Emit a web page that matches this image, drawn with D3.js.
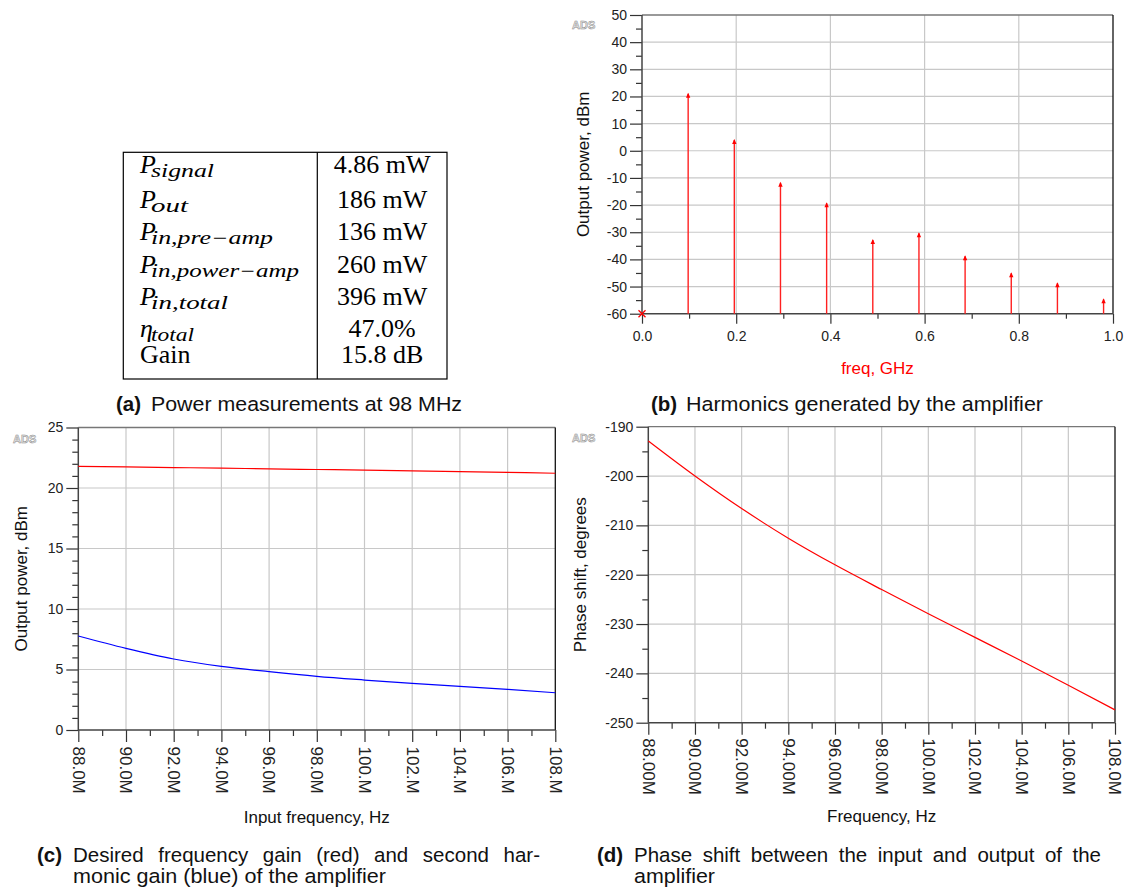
<!DOCTYPE html>
<html><head><meta charset="utf-8">
<script src="https://cdn.jsdelivr.net/npm/d3@7"></script>
<style>body{margin:0;background:#fff}</style>
</head><body><svg id="fig" width="1131" height="896" xmlns="http://www.w3.org/2000/svg"></svg>
<script>
// ---------------- DATA ----------------
// (a) table
const tableSymbols    = ["P", "P", "P", "P", "P", "η", "Gain"];
const tableSubscripts = ["signal", "out", "in,pre−amp", "in,power−amp", "in,total", "total", ""];
const tableValues     = ["4.86 mW", "186 mW", "136 mW", "260 mW", "396 mW", "47.0%", "15.8 dB"];

// (b) harmonics
const harmonicFreqGHz  = [0.098, 0.196, 0.294, 0.392, 0.490, 0.588, 0.686, 0.784, 0.882, 0.980];
const harmonicPowerDbm = [21.0, 4.0, -11.8, -19.3, -32.9, -30.4, -38.8, -45.1, -48.8, -54.7];
const dcFreqGHz  = [0.0];
const dcPowerDbm = [-60];
const bXTicks      = [0, 0.2, 0.4, 0.6, 0.8, 1.0];
const bXTickLabels = ["0.0", "0.2", "0.4", "0.6", "0.8", "1.0"];
const bYTicks      = [50, 40, 30, 20, 10, 0, -10, -20, -30, -40, -50, -60];

// (c), (d) sweep
const sweepFreqMHz        = [88, 90, 92, 94, 96, 98, 100, 102, 104, 106, 108];
const fundamentalGainDbm  = [21.78, 21.74, 21.69, 21.64, 21.58, 21.53, 21.48, 21.42, 21.36, 21.29, 21.22];
const secondHarmonicDbm   = [7.77, 6.75, 5.87, 5.26, 4.82, 4.43, 4.13, 3.86, 3.61, 3.36, 3.08];
const phaseShiftDeg       = [-192.9, -200.0, -206.6, -212.6, -218.0, -223.0, -227.9, -232.7, -237.5, -242.4, -247.4];
const cXTickLabels = ["88.0M", "90.0M", "92.0M", "94.0M", "96.0M", "98.0M", "100.M", "102.M", "104.M", "106.M", "108.M"];
const dXTickLabels = ["88.00M", "90.00M", "92.00M", "94.00M", "96.00M", "98.00M", "100.0M", "102.0M", "104.0M", "106.0M", "108.0M"];
const cYTicks = [0, 5, 10, 15, 20, 25];
const dYTicks = [-250, -240, -230, -220, -210, -200, -190];

// captions
const captionTags  = ["(a)", "(b)", "(c)", "(d)"];
const captionLines = [
  ["Power measurements at 98 MHz"],
  ["Harmonics generated by the amplifier"],
  ["Desired frequency gain (red) and second har-", "monic gain (blue) of the amplifier"],
  ["Phase shift between the input and output of the", "amplifier"]
];

// ---------------- DRAWING ----------------
const svg = d3.select("#fig");
const SANS = "'Liberation Sans', Arial, Helvetica, sans-serif";
const SERIF = "'Liberation Serif', 'Times New Roman', serif";
const GRID = "#c8c8c8";

function range(a, b, s) { const r = []; for (let v = a; v <= b + 1e-9; v += s) r.push(+v.toFixed(6)); return r; }

function panel(o) {
  const g = svg.append("g");
  const x = d3.scaleLinear().domain(o.xDomain).range([o.left, o.right]);
  const y = d3.scaleLinear().domain(o.yDomain).range([o.bottom, o.top]);

  g.selectAll(".gx").data(o.xGrid).join("line")
    .attr("x1", d => x(d)).attr("x2", d => x(d)).attr("y1", o.top).attr("y2", o.bottom)
    .attr("stroke", GRID).attr("stroke-width", 1.2);
  g.selectAll(".gy").data(o.yGrid).join("line")
    .attr("x1", o.left).attr("x2", o.right).attr("y1", d => y(d)).attr("y2", d => y(d))
    .attr("stroke", GRID).attr("stroke-width", 1.2);

  g.append("line").attr("x1", o.left).attr("x2", o.right).attr("y1", o.top).attr("y2", o.top)
    .attr("stroke", "#777").attr("stroke-width", 1.3);
  g.append("line").attr("x1", o.right).attr("x2", o.right).attr("y1", o.top).attr("y2", o.bottom)
    .attr("stroke", "#111").attr("stroke-width", 1.3);

  const ya = g.append("g").attr("transform", `translate(${o.left},0)`);
  ya.append("g").call(d3.axisLeft(y).tickValues(o.yMinor).tickSize(o.minorLen).tickFormat(""));
  ya.append("g").call(d3.axisLeft(y).tickValues(o.yMajor).tickSize(o.majorLen).tickPadding(3).tickFormat(d => String(d)));
  ya.selectAll(".domain").remove();
  ya.append("line").attr("x1", 0).attr("x2", 0).attr("y1", o.top).attr("y2", o.bottom)
    .attr("stroke", "#444").attr("stroke-width", 1.5);

  const xa = g.append("g").attr("transform", `translate(0,${o.bottom})`);
  xa.append("g").call(d3.axisBottom(x).tickValues(o.xMinor).tickSize(o.xMinorLen).tickFormat(""));
  const xm = xa.append("g").call(d3.axisBottom(x).tickValues(o.xMajor).tickSize(o.xMajorLen)
    .tickPadding(4).tickFormat((d, i) => o.xLabels[i]));
  xa.selectAll(".domain").remove();
  xa.append("line").attr("x1", o.left).attr("x2", o.right).attr("y1", 0).attr("y2", 0)
    .attr("stroke", "#444").attr("stroke-width", 1.5);

  g.selectAll(".tick line").attr("stroke", "#333").attr("stroke-width", 1.2);
  ya.selectAll(".tick text").attr("font-family", SANS).attr("font-size", 14).attr("fill", "#222");
  xm.selectAll(".tick text").attr("font-family", SANS).attr("fill", "#222");
  if (o.rotateX) {
    xm.selectAll(".tick text").attr("font-size", 17)
      .attr("transform", "rotate(90)").attr("x", o.xLabelOffset).attr("y", 0).attr("dy", "0.36em")
      .attr("text-anchor", "start");
  } else {
    xm.selectAll(".tick text").attr("font-size", 14).attr("y", o.xLabelOffset).attr("dy", "0");
  }

  g.append("text").attr("transform", `translate(${o.left + o.yTitleDx},${(o.top + o.bottom) / 2}) rotate(-90)`)
    .attr("text-anchor", "middle").attr("font-family", SANS).attr("font-size", 17).attr("fill", "#111")
    .text(o.yTitle);
  g.append("text").attr("x", (o.left + o.right) / 2).attr("y", o.xTitleY)
    .attr("text-anchor", "middle").attr("font-family", SANS).attr("font-size", 17)
    .attr("fill", o.xTitleColor || "#111").text(o.xTitle);

  g.append("text").attr("x", o.adsX).attr("y", o.adsY).attr("font-family", SANS).attr("font-size", 11)
    .attr("font-weight", "bold").attr("fill", "#e4e4e4").attr("stroke", "#8a8a8a").attr("stroke-width", 0.5)
    .text("ADS");
  return { g, x, y };
}

// ---- (b) ----
{
  const p = panel({
    left: 642, right: 1113, top: 15, bottom: 313.7,
    xDomain: [0, 1], yDomain: [-60, 50],
    xGrid: [0.2, 0.4, 0.6, 0.8], yGrid: range(-50, 40, 10),
    xMajor: bXTicks, xMinor: range(0.1, 0.9, 0.2), xLabels: bXTickLabels,
    yMajor: bYTicks, yMinor: range(-55, 45, 10),
    majorLen: 12, minorLen: 6, xMajorLen: 10, xMinorLen: 5, xLabelOffset: 27, rotateX: false,
    yTitle: "Output power, dBm", yTitleDx: -53, xTitle: "freq, GHz", xTitleY: 374, xTitleColor: "#ff0000",
    adsX: 572, adsY: 29
  });
  const stems = p.g.append("g");
  stems.selectAll("line.stem").data(harmonicFreqGHz).join("line")
    .attr("x1", d => p.x(d)).attr("x2", d => p.x(d))
    .attr("y1", p.y(-60)).attr("y2", (d, i) => p.y(harmonicPowerDbm[i]))
    .attr("stroke", "#ff2020").attr("stroke-width", 1.4);
  stems.selectAll("path.head").data(harmonicFreqGHz).join("path")
    .attr("d", (d, i) => {
      const cx = p.x(d), cy = p.y(harmonicPowerDbm[i]) - 1;
      return `M${cx - 2.2},${cy + 5}L${cx},${cy}L${cx + 2.2},${cy + 5}Z`;
    })
    .attr("fill", "#ff0000");
  stems.selectAll("path.dc").data(dcFreqGHz).join("path")
    .attr("d", (d, i) => {
      const cx = p.x(d), cy = p.y(dcPowerDbm[i]), s = 3.5;
      return `M${cx - s},${cy - s}L${cx + s},${cy + s}M${cx - s},${cy + s}L${cx + s},${cy - s}`;
    })
    .attr("stroke", "#ff0000").attr("stroke-width", 1.3).attr("fill", "none");
}

// ---- (c) ----
{
  const p = panel({
    left: 78.3, right: 555.3, top: 427.5, bottom: 730,
    xDomain: [88, 108], yDomain: [0, 25],
    xGrid: range(90, 106, 2), yGrid: [5, 10, 15, 20],
    xMajor: sweepFreqMHz, xMinor: range(89, 107, 2), xLabels: cXTickLabels,
    yMajor: cYTicks, yMinor: range(1, 24, 1).filter(v => v % 5 !== 0),
    majorLen: 12, minorLen: 6, xMajorLen: 12, xMinorLen: 6, xLabelOffset: 16.5, rotateX: true,
    yTitle: "Output power, dBm", yTitleDx: -51, xTitle: "Input frequency, Hz", xTitleY: 823,
    adsX: 13, adsY: 443
  });
  const line = (vals) => d3.line().x(d => p.x(d)).y((d, i) => p.y(vals[i])).curve(d3.curveMonotoneX);
  p.g.append("path").datum(sweepFreqMHz).attr("d", line(fundamentalGainDbm))
    .attr("fill", "none").attr("stroke", "#ff0000").attr("stroke-width", 1.2);
  p.g.append("path").datum(sweepFreqMHz).attr("d", line(secondHarmonicDbm))
    .attr("fill", "none").attr("stroke", "#0000ff").attr("stroke-width", 1.2);
}

// ---- (d) ----
{
  const p = panel({
    left: 648.3, right: 1115, top: 426.7, bottom: 722.7,
    xDomain: [88, 108], yDomain: [-250, -190],
    xGrid: range(90, 106, 2), yGrid: range(-240, -200, 10),
    xMajor: sweepFreqMHz, xMinor: range(89, 107, 2), xLabels: dXTickLabels,
    yMajor: dYTicks, yMinor: range(-245, -195, 10),
    majorLen: 12, minorLen: 6, xMajorLen: 12, xMinorLen: 6, xLabelOffset: 15.5, rotateX: true,
    yTitle: "Phase shift, degrees", yTitleDx: -62, xTitle: "Frequency, Hz", xTitleY: 822,
    adsX: 572, adsY: 442
  });
  const line = d3.line().x(d => p.x(d)).y((d, i) => p.y(phaseShiftDeg[i])).curve(d3.curveMonotoneX);
  p.g.append("path").datum(sweepFreqMHz).attr("d", line)
    .attr("fill", "none").attr("stroke", "#ff0000").attr("stroke-width", 1.2);
}

// ---- (a) table ----
{
  const T = { left: 123.3, mid: 317.3, right: 447, top: 152.3, bottom: 379 };
  const rowBase = [173, 207.5, 239.5, 272.5, 304.5, 336.5, 363];
  const subWidth = [63, 37, 122, 148, 77, 43, 0];
  const g = svg.append("g");
  g.append("rect").attr("x", T.left).attr("y", T.top).attr("width", T.right - T.left)
    .attr("height", T.bottom - T.top).attr("fill", "none").attr("stroke", "#000").attr("stroke-width", 1.2);
  g.append("line").attr("x1", T.mid).attr("x2", T.mid).attr("y1", T.top).attr("y2", T.bottom)
    .attr("stroke", "#000").attr("stroke-width", 1.2);
  tableSymbols.forEach((s, i) => {
    const isMath = tableSubscripts[i] !== "";
    g.append("text").attr("x", 140).attr("y", rowBase[i]).attr("font-family", SERIF).attr("font-size", 26)
      .attr("font-style", isMath ? "italic" : "normal").attr("fill", "#000").text(s);
    if (isMath) {
      g.append("text").attr("x", 151).attr("y", rowBase[i] + 4).attr("font-family", SERIF).attr("font-size", 18)
        .attr("font-style", "italic").attr("fill", "#000")
        .attr("textLength", subWidth[i]).attr("lengthAdjust", "spacingAndGlyphs")
        .text(tableSubscripts[i]);
    }
    g.append("text").attr("x", (T.mid + T.right) / 2).attr("y", rowBase[i]).attr("text-anchor", "middle")
      .attr("font-family", SERIF).attr("font-size", 26).attr("fill", "#000").text(tableValues[i]);
  });
}

// ---- captions ----
{
  const CAP = 20.5;
  const layout = [
    { tagX: 116, textX: 151, lines: [{ y: 411, end: 462 }] },
    { tagX: 651, textX: 686, lines: [{ y: 411, end: 1043 }] },
    { tagX: 37, textX: 73, lines: [{ y: 862, end: 540, justify: true }, { y: 883, end: 386 }] },
    { tagX: 597, textX: 634, lines: [{ y: 862, end: 1101, justify: true }, { y: 883, end: 715 }] }
  ];
  captionTags.forEach((tag, k) => {
    const L = layout[k];
    svg.append("text").attr("x", L.tagX).attr("y", L.lines[0].y).attr("font-family", SANS)
      .attr("font-size", CAP).attr("font-weight", "bold").attr("fill", "#111").text(tag);
    captionLines[k].forEach((t, j) => {
      const ln = L.lines[j];
      const el = svg.append("text").attr("x", L.textX).attr("y", ln.y).attr("font-family", SANS)
        .attr("font-size", CAP).attr("fill", "#111").text(t);
      const target = ln.end - L.textX;
      const natural = el.node().getComputedTextLength();
      const spaces = (t.match(/ /g) || []).length;
      if (ln.justify && target > natural && spaces > 0) {
        el.attr("word-spacing", (target - natural) / spaces);
      } else {
        el.attr("textLength", target).attr("lengthAdjust", "spacingAndGlyphs");
      }
    });
  });
}
</script></body></html>
